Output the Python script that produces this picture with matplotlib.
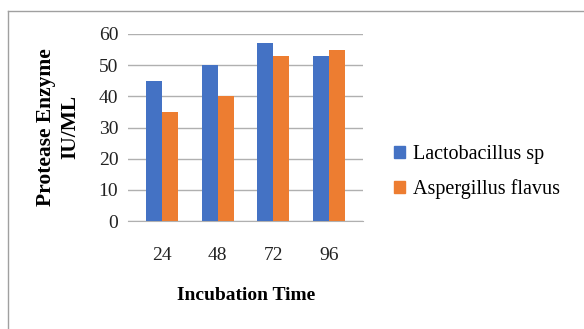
import matplotlib.pyplot as plt
import numpy as np
from matplotlib.lines import Line2D
from matplotlib.patches import Patch

# incubation time (hours) vs protease activity
times = ["24", "48", "72", "96"]
lacto = [45, 50, 57, 53]
asper = [35, 40, 53, 55]

blue = "#4472C4"
orange = "#ED7D31"

plt.rcParams['font.family'] = ['Liberation Serif', 'DejaVu Serif']

fig = plt.figure(figsize=(5.84, 3.29), dpi=100)
ax = fig.add_axes([128 / 584, 1 - 221 / 329, 235 / 584, 187 / 329])

x = np.arange(len(times))
w = 0.286
ax.bar(x - w / 2, lacto, w, color=blue, zorder=3)
ax.bar(x + w / 2, asper, w, color=orange, zorder=3)

ax.set_xlim(-0.6, 3.6)
ax.set_ylim(0, 60)
ax.set_yticks(range(0, 61, 10))
ax.set_xticks(x)
ax.set_xticklabels(times)
ax.yaxis.grid(True, color="#B0B0B0", linewidth=1, zorder=0)
for s in ["top", "right", "left"]:
    ax.spines[s].set_visible(False)
ax.spines["bottom"].set_color("#B0B0B0")
ax.tick_params(axis="both", length=0, labelsize=14, colors="#222222")
ax.tick_params(axis="x", pad=19)
ax.tick_params(axis="y", pad=7)

fig.text(246 / 584, 1 - 296 / 329, "Incubation Time", ha="center", va="center",
         fontsize=14, fontweight="bold")
fig.text(58 / 584, 1 - 127 / 329, "Protease Enzyme\nIU/ML", ha="center", va="center",
         rotation=90, fontsize=15.5, fontweight="bold", linespacing=1.3)

handles = [Patch(color=blue), Patch(color=orange)]
fig.legend(handles, ["Lactobacillus sp", "Aspergillus flavus"],
           loc="center left", bbox_to_anchor=(376 / 584, 1 - 172 / 329),
           frameon=False, fontsize=14.5, handlelength=0.55, handleheight=0.55,
           handletextpad=0.4, labelspacing=0.75)

# outer chart border (only top and left visible in the crop)
fig.add_artist(Line2D([8 / 584, 8 / 584], [0, 1 - 11 / 329], color="#A0A0A0", lw=1))
fig.add_artist(Line2D([8 / 584, 1], [1 - 11 / 329, 1 - 11 / 329], color="#A0A0A0", lw=1))

fig.savefig("out.png", dpi=100)
